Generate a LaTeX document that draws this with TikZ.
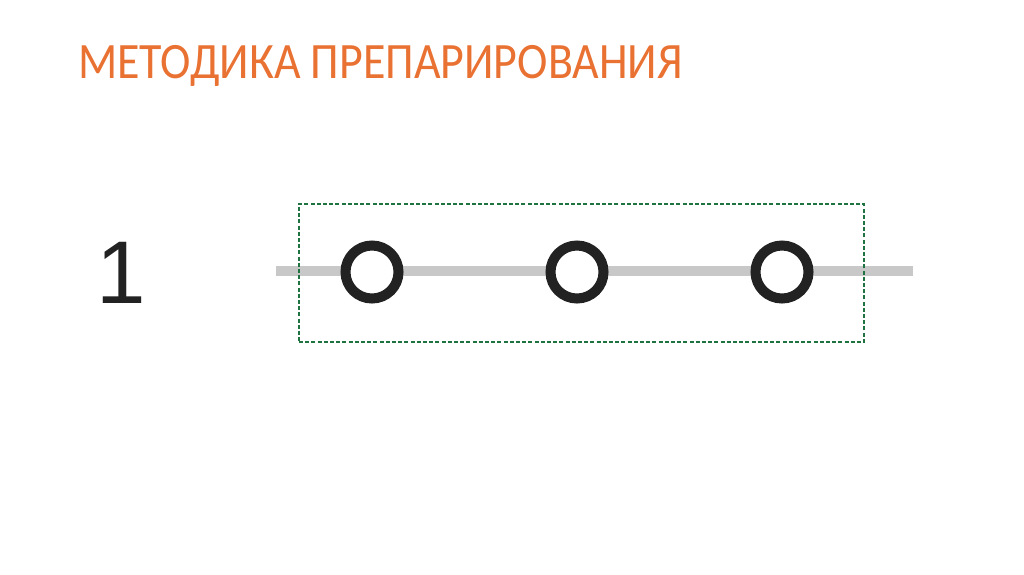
\documentclass[tikz,border=0pt]{standalone}
\usepackage{fontspec}
\setmainfont{Carlito}
\newfontfamily\arialfont{Liberation Sans}
\definecolor{titleorange}{RGB}{233,113,50}
\definecolor{ringdark}{RGB}{34,34,34}
\definecolor{linegray}{RGB}{200,200,200}
\definecolor{boxgreen}{RGB}{30,115,65}
\begin{document}
\begin{tikzpicture}[x=1pt,y=-1pt,
  ring/.style={circle,draw=ringdark,line width=10pt,minimum size=53pt,inner sep=0pt,fill=white},
  guideline/.style={draw=linegray,line width=10pt},
  selbox/.style={draw=boxgreen,line width=1.8pt,dash pattern=on 4pt off 2.2pt}]
\useasboundingbox (0,0) rectangle (1024,574);
\fill[white] (0,0) rectangle (1024,574);
\node[anchor=base west,inner sep=0pt,text=titleorange,xscale=0.9,transform shape,font=\fontsize{51}{51}\selectfont] (title) at (78,78) {МЕТОДИКА ПРЕПАРИРОВАНИЯ};
\node[anchor=base west,inner sep=0pt,text=ringdark] (num) at (96,303) {\fontspec{Liberation Sans}\fontsize{89}{89}\selectfont 1};
\coordinate (lstart) at (276,271);
\coordinate (lend) at (913,271);
\draw[guideline] (lstart) -- (lend);
\node[ring] (c1) at (372,272) {};
\node[ring] (c2) at (577,272) {};
\node[ring] (c3) at (782,272) {};
\node[selbox,minimum width=565pt,minimum height=138pt,inner sep=0pt,anchor=north west] (box) at (298,203) {};
\end{tikzpicture}
\end{document}
